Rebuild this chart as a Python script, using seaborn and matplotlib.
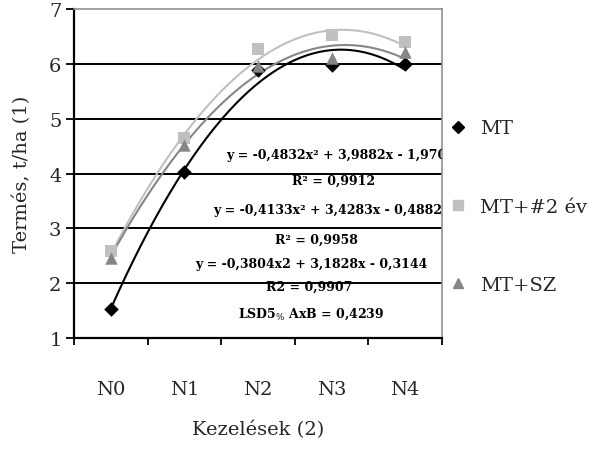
import numpy as np
import pandas as pd
import seaborn as sns
import matplotlib.pyplot as plt
from matplotlib.lines import Line2D

# data
categories = ["N0", "N1", "N2", "N3", "N4"]
mt = [1.52, 4.03, 5.89, 5.97, 6.0]
mt_2ev = [2.58, 4.64, 6.27, 6.53, 6.4]
mt_sz = [2.46, 4.52, 5.96, 6.1, 6.22]
series_names = ["MT", "MT+#2 év", "MT+SZ"]

# trendline coefficients printed on the chart (x = 1..5)
coef_mt = [-0.4832, 3.9882, -1.9708]
coef_2ev = [-0.4133, 3.4283, -0.4882]
coef_sz = [-0.3804, 3.1828, -0.3144]

labels = [
    "y = -0,4832x² + 3,9882x - 1,9708",
    "R² = 0,9912",
    "y = -0,4133x² + 3,4283x - 0,4882",
    "R² = 0,9958",
    "y = -0,3804x2 + 3,1828x - 0,3144",
    "R2 = 0,9907",
    r"LSD5$_{\%}$ AxB = 0,4239",
]

sns.set_theme(style="white")
plt.rcParams['font.family'] = ['DejaVu Serif']
plt.rcParams['mathtext.fontset'] = 'dejavuserif'

colors = {"MT": "black", "MT+#2 év": "#c0c0c0", "MT+SZ": "#868686"}
markers = {"MT": "D", "MT+#2 év": "s", "MT+SZ": "^"}
msize = {"MT": 55, "MT+#2 év": 70, "MT+SZ": 80}

pos = np.arange(len(categories)) + 0.5
df = pd.DataFrame({
    "pos": np.tile(pos, 3),
    "val": mt + mt_2ev + mt_sz,
    "serie": np.repeat(series_names, len(categories)),
})

xs = np.linspace(1, 5, 200)
trend = pd.DataFrame({
    "pos": np.tile(xs - 0.5, 3),
    "val": np.concatenate([np.polyval(coef_mt, xs), np.polyval(coef_2ev, xs), np.polyval(coef_sz, xs)]),
    "serie": np.repeat(series_names, len(xs)),
})

fig = plt.figure(figsize=(5.89, 4.52), dpi=100)
ax = fig.add_axes([74 / 589, 1 - 339 / 452, 368 / 589, 329 / 452])

for y in range(2, 7):
    ax.axhline(y, color="black", lw=1.4, zorder=1)

sns.lineplot(data=trend, x="pos", y="val", hue="serie", palette=colors, lw=1.5,
             legend=False, ax=ax, zorder=3, sort=False, estimator=None)
for s in series_names:
    sub = df[df.serie == s]
    sns.scatterplot(data=sub, x="pos", y="val", color=colors[s], marker=markers[s],
                    s=msize[s], edgecolor=colors[s], linewidth=0, ax=ax, zorder=4, legend=False)

ax.set_xlim(0, 5)
ax.set_ylim(1, 7)
ax.set_xticks(range(6))
ax.set_xticklabels([])
ax.set_xticks(pos, minor=True)
ax.set_xticklabels(categories, minor=True)
ax.tick_params(axis="x", which="major", direction="out", length=5, width=1.3, color="black", bottom=True)
ax.tick_params(axis="x", which="minor", length=0, pad=30, labelsize=14)
ax.set_yticks(range(1, 8))
ax.tick_params(axis="y", direction="out", length=6, width=1.3, color="black", left=True, labelsize=14, pad=3)

for side in ["left", "bottom"]:
    ax.spines[side].set_color("black")
    ax.spines[side].set_linewidth(1.6)
for side in ["top", "right"]:
    ax.spines[side].set_color("#909090")
    ax.spines[side].set_linewidth(1.2)

ax.set_xlabel("Kezelések (2)", fontsize=14)
ax.set_ylabel("Termés, t/ha (1)", fontsize=14)
ax.xaxis.set_label_coords(0.5, -0.277)
ax.yaxis.set_label_coords(-0.141, 0.5)
ax.xaxis.label.set_va("center")
ax.yaxis.label.set_va("center")

tx = [3.62, 3.52, 3.45, 3.29, 3.22, 3.2, 3.22]
ty = [4.35, 3.88, 3.34, 2.80, 2.35, 1.94, 1.45]
for t, x, y in zip(labels, tx, ty):
    ax.text(x, y, t, ha="center", va="center", fontsize=9, fontweight="bold",
            color="black", clip_on=True, zorder=5)

handles = [Line2D([], [], linestyle="none", marker=markers[s], color=colors[s],
                  markersize=6 if s == "MT" else 7) for s in series_names]
fig.legend(handles, series_names, loc="upper left", bbox_to_anchor=(431 / 589, 1 - 103 / 452),
           frameon=False, fontsize=14, labelspacing=3.1, handlelength=1.0, handletextpad=0.6)

plt.savefig("out.png", dpi=100)
